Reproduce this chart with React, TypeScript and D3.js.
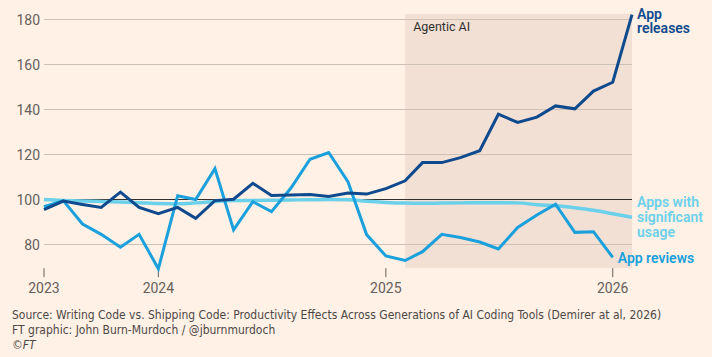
import * as d3 from 'd3';

// Monthly index, Jul 2023 = 100 baseline period
const months = d3.utcMonths(new Date(Date.UTC(2023, 6, 1)), new Date(Date.UTC(2026, 2, 1)));

const appReleases = [
  95.5, 99.3, 97.8, 96.5, 103.3, 96.5, 93.7, 96.5, 91.6, 99.5, 100.1, 107.2, 101.8, 102.0, 102.2, 101.3,
  102.9, 102.4, 104.8, 108.3, 116.4, 116.4, 118.6, 121.7, 137.9, 134.3, 136.6, 141.6, 140.3, 148.2, 152.1, 182.2,
];

const appReviews = [
  96.8, 99.5, 89.1, 84.5, 78.8, 84.5, 69.2, 101.7, 100.0, 113.7, 86.5, 99.0, 94.6, 105.0, 117.9, 120.9,
  107.9, 84.4, 74.9, 72.9, 76.8, 84.5, 83.1, 81.1, 78.0, 87.6, 93.1, 97.9, 85.4, 85.7, 74.3,
];

const significantUsage = [
  100.0, 99.6, 99.3, 99.1, 98.9, 98.6, 98.2, 98.1, 98.5, 99.1, 99.5, 99.6, 99.7, 99.8, 99.9, 100.0,
  99.9, 99.2, 98.7, 98.4, 98.3, 98.4, 98.5, 98.6, 98.6, 98.5, 97.7, 97.2, 96.3, 95.2, 93.7, 92.1,
];

const yTicks = [80, 100, 120, 140, 160, 180];
const xTickDates = [
  new Date(Date.UTC(2023, 6, 1)),
  new Date(Date.UTC(2024, 0, 1)),
  new Date(Date.UTC(2025, 0, 1)),
  new Date(Date.UTC(2026, 0, 1)),
];
const xTickLabels = ['2023', '2024', '2025', '2026'];

const agenticStart = new Date(Date.UTC(2025, 1, 1));

const sourceLines = [
  'Source: Writing Code vs. Shipping Code: Productivity Effects Across Generations of AI Coding Tools (Demirer at al, 2026)',
  'FT graphic: John Burn-Murdoch / @jburnmurdoch',
];

const WIDTH = 712;
const HEIGHT = 357;

const COLORS = {
  bg: '#fff1e5',
  shade: '#f2e0d5',
  grid: '#cdc0b6',
  baseline: '#33302e',
  text: '#66605c',
  releases: '#0f4a8e',
  reviews: '#1aa0dc',
  usage: '#6bd0ea',
};

const FONT = 'Roboto, "Noto Sans", sans-serif';

export default function App() {
  const x = d3.scaleUtc().domain([months[0], months[months.length - 1]]).range([44, 632]);
  const y = d3.scaleLinear().domain([80, 180]).range([244.5, 19.5]);

  const yBottom = y(69.5);
  const yTop = y(182.5);
  const xLeft = x(months[0]);
  const xRight = x(months[months.length - 1]);

  const line = d3
    .line<number>()
    .x((_, i) => x(months[i]))
    .y((d) => y(d));

  const smooth = d3
    .line<number>()
    .x((_, i) => x(months[i]))
    .y((d) => y(d))
    .curve(d3.curveMonotoneX);

  const labelX = x(months[months.length - 1]) + 5;
  const reviewsLabelX = x(months[appReviews.length - 1]) + 5;

  return (
    <svg
      width={WIDTH}
      height={HEIGHT}
      style={{ position: 'absolute', left: 0, top: 0, background: COLORS.bg }}
      fontFamily={FONT}
    >
      <rect x={0} y={0} width={WIDTH} height={HEIGHT} fill={COLORS.bg} />

      {/* shaded agentic AI period */}
      <rect
        x={x(agenticStart)}
        y={yTop}
        width={xRight - x(agenticStart)}
        height={yBottom - yTop}
        fill={COLORS.shade}
      />
      <text x={x(agenticStart) + 8} y={31} fontSize={12.5} fill="#33302e">
        Agentic AI
      </text>

      {/* gridlines and y labels */}
      {yTicks.map((t) => (
        <g key={t}>
          <line
            x1={xLeft}
            x2={xRight}
            y1={y(t)}
            y2={y(t)}
            stroke={t === 100 ? COLORS.baseline : COLORS.grid}
            strokeWidth={1}
          />
          <text x={40} y={y(t)} dy="0.36em" textAnchor="end" fontSize={14} fill={COLORS.text}>
            {t}
          </text>
        </g>
      ))}

      {/* x axis ticks */}
      {xTickDates.map((d, i) => (
        <g key={xTickLabels[i]}>
          <line x1={x(d)} x2={x(d)} y1={yBottom} y2={yBottom + 9} stroke={COLORS.text} strokeWidth={1} />
          <text x={x(d)} y={292.5} textAnchor="middle" fontSize={14} fill={COLORS.text}>
            {xTickLabels[i]}
          </text>
        </g>
      ))}

      {/* series */}
      <path d={smooth(significantUsage) ?? ''} fill="none" stroke={COLORS.usage} strokeWidth={3.5} />
      <path d={line(appReviews) ?? ''} fill="none" stroke={COLORS.reviews} strokeWidth={3} />
      <path d={line(appReleases) ?? ''} fill="none" stroke={COLORS.releases} strokeWidth={3} />

      {/* direct labels */}
      <text fontSize={14} fontWeight={600} fill={COLORS.releases}>
        <tspan x={labelX} y={18.5}>App</tspan>
        <tspan x={labelX} y={33}>releases</tspan>
      </text>
      <text fontSize={14} fontWeight={600} fill={COLORS.usage}>
        <tspan x={labelX} y={207}>Apps with</tspan>
        <tspan x={labelX} y={221.5}>significant</tspan>
        <tspan x={labelX} y={237}>usage</tspan>
      </text>
      <text x={reviewsLabelX} y={262.5} fontSize={14} fontWeight={600} fill={COLORS.reviews}>
        App reviews
      </text>

      {/* footer */}
      <g fontFamily='"Liberation Sans Narrow", "DejaVu Sans Condensed", sans-serif' fontSize={12} fill="#4e4845">
        {sourceLines.map((s, i) => (
          <text key={i} x={12} y={319 + i * 15}>
            {s}
          </text>
        ))}
        <text x={12} y={348.5} fontStyle="italic">
          ©FT
        </text>
      </g>
    </svg>
  );
}
